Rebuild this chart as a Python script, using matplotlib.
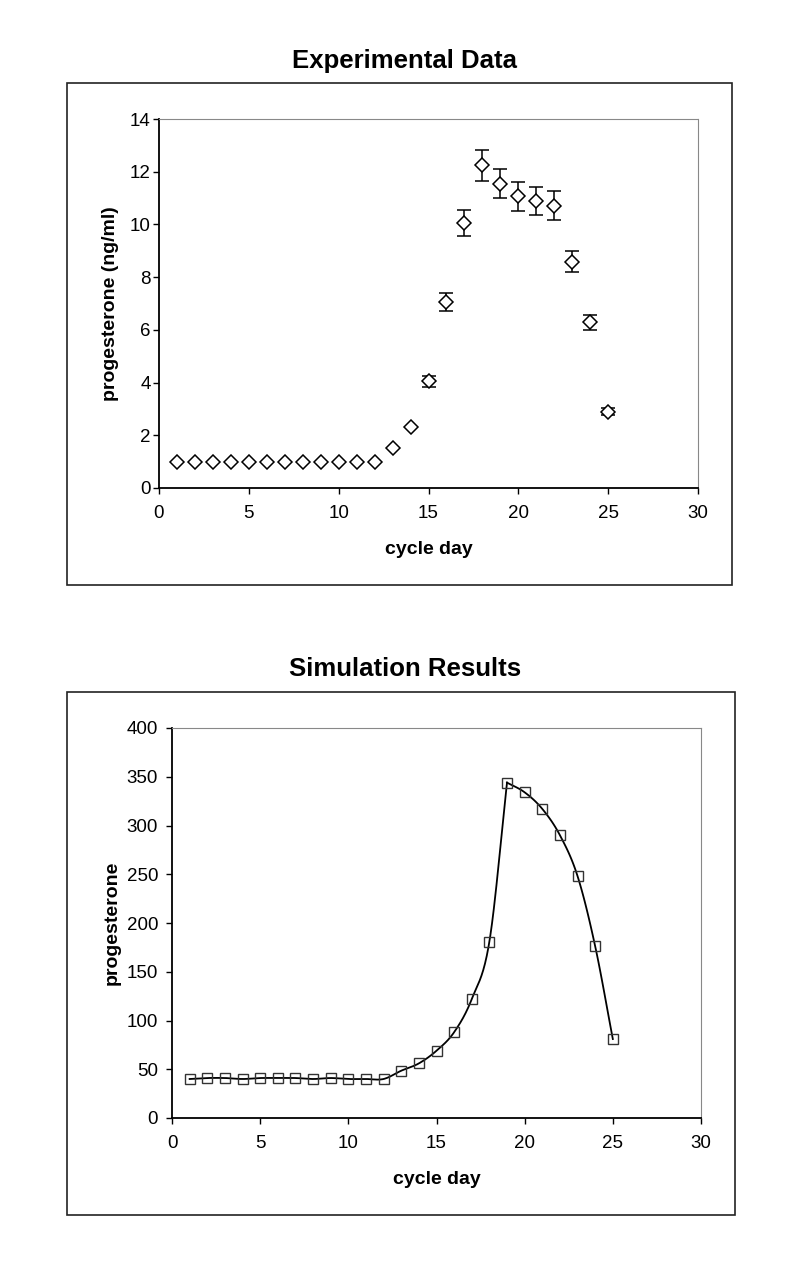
import numpy as np
import matplotlib.pyplot as plt
from matplotlib.patches import Rectangle

plt.rcParams['font.family'] = ['Liberation Sans', 'DejaVu Sans']

# 実験データ
days = list(range(1, 26))
exp_mean = [1.0, 1.0, 1.0, 1.0, 1.0, 1.0, 1.0, 1.0, 1.0, 1.0, 1.0, 1.0,
            1.53, 2.3, 4.05, 7.05, 10.05, 12.24, 11.55, 11.07, 10.88, 10.7,
            8.58, 6.28, 2.9]
exp_err = [0, 0, 0, 0, 0, 0, 0, 0, 0, 0, 0, 0,
           0, 0, 0.2, 0.33, 0.5, 0.6, 0.55, 0.55, 0.53, 0.55,
           0.4, 0.3, 0.14]

# シミュレーション結果
sim_vals = [40, 41, 41, 40, 41, 41, 41, 40, 41, 40, 40, 40,
            48.5, 56, 69, 88, 122, 181, 344, 334, 317, 290,
            248, 176, 81]


def smooth(x, y, n=20):
    """Catmull-Rom で滑らかな線 (Excel の平滑線に近い)"""
    x = np.asarray(x, float)
    y = np.asarray(y, float)
    px = np.concatenate([[2 * x[0] - x[1]], x, [2 * x[-1] - x[-2]]])
    py = np.concatenate([[2 * y[0] - y[1]], y, [2 * y[-1] - y[-2]]])
    xs, ys = [], []
    t = np.linspace(0, 1, n, endpoint=False)
    for i in range(1, len(px) - 2):
        for p, out in ((px, xs), (py, ys)):
            p0, p1, p2, p3 = p[i - 1], p[i], p[i + 1], p[i + 2]
            out.extend(0.5 * (2 * p1 + (-p0 + p2) * t
                              + (2 * p0 - 5 * p1 + 4 * p2 - p3) * t ** 2
                              + (-p0 + 3 * p1 - 3 * p2 + p3) * t ** 3))
    xs.append(x[-1])
    ys.append(y[-1])
    return xs, ys


def style_axes(ax, ymax, ystep, ypad):
    ax.set_xlim(0, 30)
    ax.set_ylim(0, ymax)
    ax.set_xticks(range(0, 31, 5))
    ax.set_yticks(np.arange(0, ymax + 1e-9, ystep))
    ax.tick_params(direction='out', length=4, width=1, labelsize=13.5,
                   colors='black')
    ax.tick_params(axis='x', pad=8)
    ax.tick_params(axis='y', pad=ypad)
    for s in ['top', 'right']:
        ax.spines[s].set_color('#888888')
        ax.spines[s].set_linestyle((0, (1, 1)))
        ax.spines[s].set_linewidth(0.8)
    for s in ['left', 'bottom']:
        ax.spines[s].set_linewidth(1.3)


fig = plt.figure(figsize=(8, 12.62), dpi=100)

# 外枠
for (x0, y0, x1, y1) in [(67, 83, 732, 585), (67, 692, 735, 1215)]:
    fig.patches.append(Rectangle((x0 / 800, 1 - y1 / 1262),
                                 (x1 - x0) / 800, (y1 - y0) / 1262,
                                 transform=fig.transFigure, fill=False,
                                 edgecolor='#222222', linewidth=1.2))

# 上のグラフ
ax1 = fig.add_axes([159 / 800, 1 - 488 / 1262, 539 / 800, 369 / 1262])
ax1.errorbar(days, exp_mean, yerr=exp_err, fmt='D', ms=7.5, mfc='white',
             mec='black', mew=1.1, ecolor='black', elinewidth=1.1,
             capsize=5, capthick=1.1)
style_axes(ax1, 14, 2, 2)
ax1.set_xlabel('cycle day', fontsize=14, fontweight='bold', labelpad=14)
ax1.set_ylabel('progesterone (ng/ml)', fontsize=14, fontweight='bold',
               labelpad=8)
fig.text(0.505, 1 - 61 / 1262, 'Experimental Data', ha='center',
         va='center', fontsize=18.5, fontweight='bold')

# 下のグラフ (ピークで分けて平滑化)
ax2 = fig.add_axes([172 / 800, 1 - 1118 / 1262, 529 / 800, 390 / 1262])
k = int(np.argmax(sim_vals))
for seg in (slice(0, k + 1), slice(k, None)):
    sx, sy = smooth(days[seg], sim_vals[seg])
    ax2.plot(sx, sy, color='black', lw=1.3)
ax2.plot(days, sim_vals, 's', ms=7.5, mfc='none', mec='#333333', mew=1.0)
style_axes(ax2, 400, 50, 6)
ax2.set_xlabel('cycle day', fontsize=14, fontweight='bold', labelpad=14)
ax2.set_ylabel('progesterone', fontsize=14, fontweight='bold', labelpad=4)
fig.text(0.506, 1 - 669 / 1262, 'Simulation Results', ha='center',
         va='center', fontsize=18.5, fontweight='bold')

fig.savefig('out.png', dpi=100)
